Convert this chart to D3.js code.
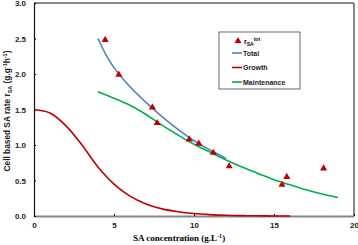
<!DOCTYPE html>
<html>
<head>
<meta charset="utf-8">
<script src="https://cdn.jsdelivr.net/npm/d3@7"></script>
<style>
  body { margin: 0; background: #fff; }
  text { font-family: Arial, "Liberation Sans", sans-serif; }
</style>
</head>
<body>
<div id="chart"></div>
<script>
// measured points r_SA^tot
const obsX = [4.45, 5.3, 7.4, 7.7, 9.7, 10.3, 11.2, 12.2, 15.5, 15.8, 18.1];
const obsY = [2.48, 1.99, 1.53, 1.31, 1.08, 1.02, 0.89, 0.70, 0.44, 0.55, 0.67];

// model curves
const totalX = [4, 4.5, 5, 6, 7, 8, 9, 10, 11, 12];
const totalY = [2.5, 2.27, 2.09, 1.82, 1.6, 1.4, 1.22, 1.06, 0.93, 0.81];

const growthX = [0, 1, 2, 3, 4, 5, 6, 7, 8, 9, 10, 11, 12, 13, 14, 15, 16];
const growthY = [1.5, 1.45, 1.27, 1.0, 0.69, 0.45, 0.28, 0.17, 0.1, 0.06, 0.035, 0.02, 0.01, 0.005, 0.003, 0.001, 0];

const maintX = [4, 5, 6, 7, 8, 9, 10, 11, 12, 13, 14, 15, 16, 17, 18, 19];
const maintY = [1.75, 1.66, 1.56, 1.43, 1.28, 1.14, 1.01, 0.9, 0.79, 0.69, 0.6, 0.51, 0.44, 0.37, 0.31, 0.26];

const xTicks = [0, 5, 10, 15, 20];
const yTicks = [0, 0.5, 1.0, 1.5, 2.0, 2.5, 3.0];

const svgWidth = 358;
const svgHeight = 245;
const margin = { top: 3, right: 4, bottom: 29, left: 34 };
const width = svgWidth - margin.left - margin.right;
const height = svgHeight - margin.top - margin.bottom;

const svg = d3.select("#chart")
  .append("svg")
  .attr("width", svgWidth)
  .attr("height", svgHeight);

const g = svg.append("g")
  .attr("transform", `translate(${margin.left},${margin.top})`);

const x = d3.scaleLinear().domain([0, 20]).range([0, width]);
const y = d3.scaleLinear().domain([0, 3]).range([height, 0]);

// frame (top/right gray)
g.append("line").attr("x1", 0).attr("x2", width).attr("y1", 0).attr("y2", 0)
  .attr("stroke", "#888").attr("stroke-width", 2);
g.append("line").attr("x1", width).attr("x2", width).attr("y1", 0).attr("y2", height)
  .attr("stroke", "#888").attr("stroke-width", 2);

// axes
const xAxis = g.append("g")
  .attr("transform", `translate(0,${height})`)
  .call(d3.axisBottom(x).tickValues(xTicks).tickSizeInner(-2).tickSizeOuter(0).tickPadding(6).tickFormat(d3.format("d")));
xAxis.select(".domain").attr("stroke", "#888").attr("stroke-width", 2);
xAxis.selectAll("text").attr("font-size", 8).attr("font-weight", "bold").attr("fill", "#222");

const yAxis = g.append("g")
  .call(d3.axisLeft(y).tickValues(yTicks).tickSizeInner(-2).tickSizeOuter(0).tickPadding(8).tickFormat(d3.format(".1f")));
yAxis.select(".domain").attr("stroke", "#111").attr("stroke-width", 1.2);
yAxis.selectAll("text").attr("font-size", 8).attr("font-weight", "bold").attr("fill", "#222");

const line = d3.line()
  .x(d => x(d[0]))
  .y(d => y(d[1]))
  .curve(d3.curveCatmullRom);

g.append("path")
  .datum(growthX.map((v, i) => [v, growthY[i]]))
  .attr("d", line).attr("fill", "none").attr("stroke", "#c00000").attr("stroke-width", 1.6);

g.append("path")
  .datum(totalX.map((v, i) => [v, totalY[i]]))
  .attr("d", line).attr("fill", "none").attr("stroke", "#4f81bd").attr("stroke-width", 1.6);

g.append("path")
  .datum(maintX.map((v, i) => [v, maintY[i]]))
  .attr("d", line).attr("fill", "none").attr("stroke", "#00b050").attr("stroke-width", 1.6);

const tri = d3.symbol().type(d3.symbolTriangle).size(22);
g.selectAll(".obs")
  .data(obsX.map((v, i) => [v, obsY[i]]))
  .join("path")
  .attr("class", "obs")
  .attr("transform", d => `translate(${x(d[0])},${y(d[1])})`)
  .attr("d", tri)
  .attr("fill", "#c00000");

// legend
const legend = svg.append("g").attr("transform", "translate(219,32)");
legend.append("rect").attr("width", 81).attr("height", 57)
  .attr("fill", "#fff").attr("stroke", "#444").attr("stroke-width", 0.8);

legend.append("path").attr("d", tri).attr("transform", "translate(19,9)").attr("fill", "#c00000");
const lt = legend.append("text").attr("x", 25).attr("y", 12).attr("font-size", 7).attr("font-weight", "bold");
lt.append("tspan").text("r");
lt.append("tspan").attr("font-size", 5).attr("dy", 2).text("SA");
lt.append("tspan").attr("font-size", 5).attr("dy", -5).text("tot");

const legendItems = ["Total", "Growth", "Maintenance"];
const legendColors = ["#4f81bd", "#c00000", "#00b050"];
legendItems.forEach((name, i) => {
  const yy = 21 + i * 14.5;
  legend.append("line").attr("x1", 13).attr("x2", 23).attr("y1", yy).attr("y2", yy)
    .attr("stroke", legendColors[i]).attr("stroke-width", 1.6);
  legend.append("text").attr("x", 24).attr("y", yy + 2.5)
    .attr("font-size", 7).attr("font-weight", "bold").attr("fill", "#222").text(name);
});

// axis titles
svg.append("text")
  .attr("x", 179).attr("y", 241)
  .attr("text-anchor", "middle")
  .style("font-family", "'Liberation Serif', 'Times New Roman', serif")
  .attr("font-size", 9).attr("font-weight", "bold")
  .call(t => {
    t.append("tspan").text("SA concentration (g.L");
    t.append("tspan").attr("font-size", 6).attr("dy", -3).text("-1");
    t.append("tspan").attr("dy", 3).text(")");
  });

svg.append("text")
  .attr("transform", "translate(10,111) rotate(-90)")
  .attr("text-anchor", "middle")
  .attr("font-size", 8.3).attr("font-weight", "bold").attr("fill", "#222")
  .call(t => {
    t.append("tspan").text("Cell based SA rate r");
    t.append("tspan").attr("font-size", 5.5).attr("dy", 2).text("SA");
    t.append("tspan").attr("dy", -2).text(" (g.g");
    t.append("tspan").attr("font-size", 5.5).attr("dy", -3).text("-1");
    t.append("tspan").attr("dy", 3).text("h");
    t.append("tspan").attr("font-size", 5.5).attr("dy", -3).text("-1");
    t.append("tspan").attr("dy", 3).text(")");
  });
</script>
</body>
</html>
